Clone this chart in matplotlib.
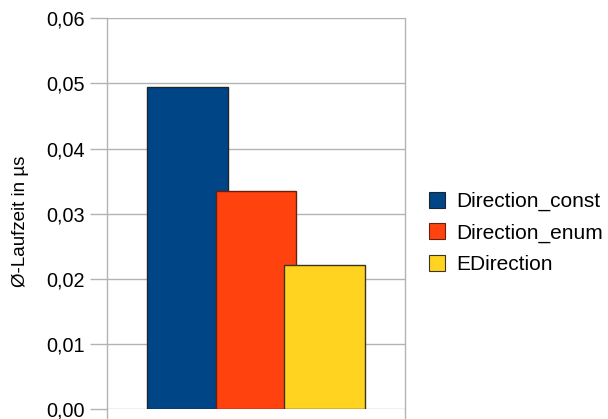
import matplotlib
matplotlib.use("Agg")
import matplotlib.pyplot as plt
from matplotlib.patches import Patch
from matplotlib.ticker import FuncFormatter, MultipleLocator

plt.rcParams["font.family"] = ["Liberation Sans", "DejaVu Sans"]

SERIES = ["Direction_const", "Direction_enum", "EDirection"]
VALUES = [0.0495, 0.0335, 0.0222]
COLORS = ["#004586", "#ff420e", "#ffd320"]
EDGES = ["#1c2530", "#6a2010", "#3a3520"]
Y_LABEL = "Ø-Laufzeit in µs"

GRID = "#b3b3b3"

fig = plt.figure(figsize=(6.08, 4.19), dpi=100)
ax = fig.add_axes([0.176, 0.0232, 0.490, 0.9331])

width = 0.27
step = 0.23
for i, (name, val) in enumerate(zip(SERIES, VALUES)):
    ax.bar((i - 1) * step, val, width=width, color=COLORS[i],
           edgecolor=EDGES[i], linewidth=1.0, zorder=3 + i, label=name)

ax.set_xlim(-0.5, 0.5)
ax.set_ylim(0, 0.06)
ax.yaxis.set_major_locator(MultipleLocator(0.01))
ax.yaxis.set_major_formatter(FuncFormatter(lambda v, _: f"{v:.2f}".replace(".", ",")))
ax.set_xticks([-0.5, 0.5])
ax.set_xticklabels([])

ax.grid(axis="y", color=GRID, linewidth=1.0, zorder=0)
for side in ("left", "right"):
    ax.spines[side].set_color(GRID)
    ax.spines[side].set_linewidth(1.0)
for side in ("top", "bottom"):
    ax.spines[side].set_visible(False)

ax.tick_params(axis="y", length=12, width=1.0, color=GRID, labelsize=14.3, pad=4, labelcolor="#000000")
ax.tick_params(axis="x", length=8, width=1.0, color=GRID)

ax.set_ylabel(Y_LABEL, fontsize=13.5)
ax.yaxis.set_label_coords(-0.262, 0.48)

handles = [Patch(facecolor=c, edgecolor=e, linewidth=0.8) for c, e in zip(COLORS, EDGES)]
fig.legend(handles, SERIES, loc="center left", bbox_to_anchor=(0.6915, 0.444),
           frameon=False, fontsize=15, handlelength=0.8, handleheight=0.8,
           handletextpad=0.5, labelspacing=0.58, borderaxespad=0)

fig.savefig("out.png", dpi=100)
